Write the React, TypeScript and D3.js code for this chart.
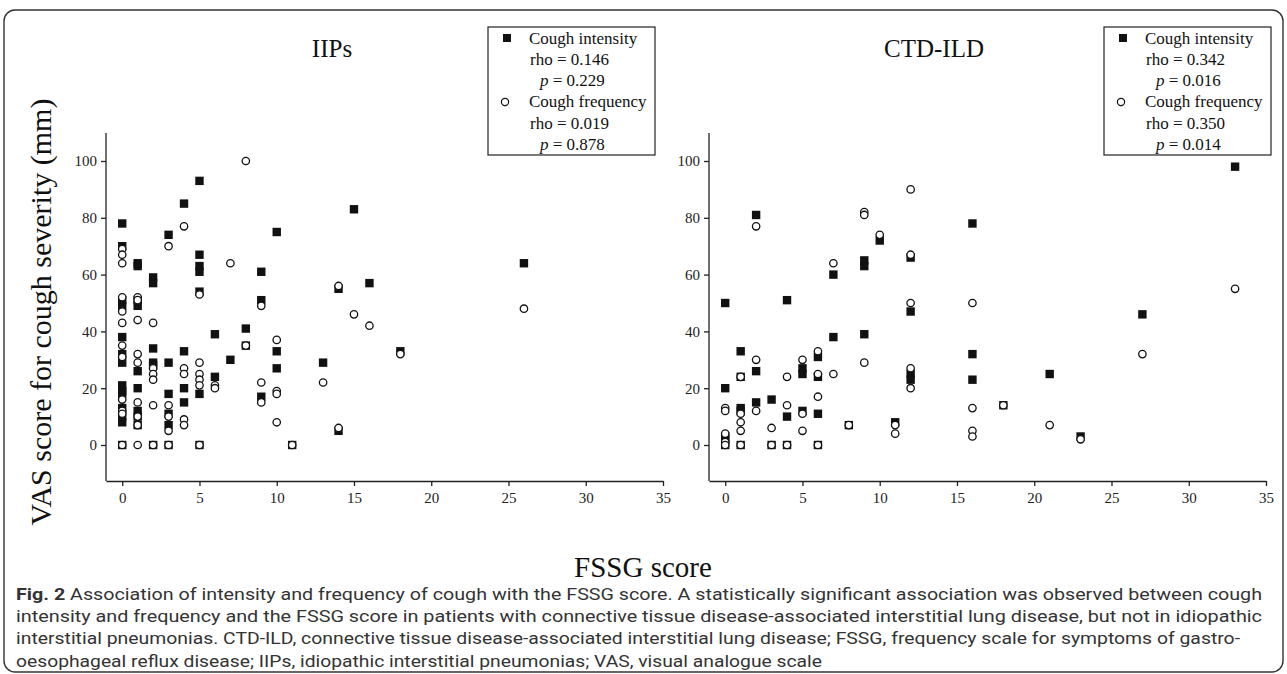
import React, { useEffect, useRef } from "react";
import * as d3 from "d3";

// FSSG score (x) vs VAS score (y)
const iipsIntensity: [number, number][] = [
  [0, 78], [0, 70], [0, 51], [0, 49], [0, 38], [0, 32], [0, 29], [0, 21], [0, 19], [0, 18], [0, 13], [0, 10], [0, 8], [0, 0],
  [1, 64], [1, 63], [1, 51], [1, 49], [1, 26], [1, 20], [1, 12], [1, 10], [1, 7],
  [2, 59], [2, 57], [2, 34], [2, 29], [2, 28], [2, 0],
  [3, 74], [3, 29], [3, 18], [3, 11], [3, 7], [3, 0],
  [4, 85], [4, 33], [4, 20], [4, 15],
  [5, 93], [5, 67], [5, 63], [5, 61], [5, 54], [5, 18], [5, 0],
  [6, 39], [6, 24], [7, 30], [8, 41], [8, 35],
  [9, 61], [9, 51], [9, 17], [10, 75], [10, 33], [10, 27],
  [11, 0], [13, 29], [14, 55], [14, 5], [15, 83], [16, 57], [18, 33], [26, 64],
];
const iipsFrequency: [number, number][] = [
  [0, 69], [0, 67], [0, 64], [0, 52], [0, 47], [0, 43], [0, 35], [0, 31], [0, 16], [0, 12], [0, 11], [0, 0],
  [1, 52], [1, 51], [1, 44], [1, 32], [1, 29], [1, 15], [1, 10], [1, 7], [1, 0],
  [2, 43], [2, 27], [2, 25], [2, 23], [2, 14], [2, 0],
  [3, 70], [3, 14], [3, 10], [3, 5], [3, 0],
  [4, 77], [4, 27], [4, 25], [4, 9], [4, 7],
  [5, 53], [5, 29], [5, 25], [5, 23], [5, 21], [5, 0],
  [6, 21], [6, 20], [7, 64], [8, 100], [8, 35],
  [9, 49], [9, 22], [9, 15], [10, 37], [10, 19], [10, 18], [10, 8],
  [11, 0], [13, 22], [14, 56], [14, 6], [15, 46], [16, 42], [18, 32], [26, 48],
];
const ctdIntensity: [number, number][] = [
  [0, 50], [0, 20], [0, 3], [0, 2], [0, 0],
  [1, 33], [1, 24], [1, 13], [1, 12], [1, 0],
  [2, 81], [2, 26], [2, 15], [3, 16], [3, 0],
  [4, 51], [4, 10], [4, 0], [5, 27], [5, 25], [5, 12],
  [6, 31], [6, 24], [6, 11], [6, 0], [7, 60], [7, 38], [8, 7],
  [9, 65], [9, 63], [9, 39], [10, 72], [11, 8],
  [12, 66], [12, 47], [12, 25], [12, 23],
  [16, 78], [16, 32], [16, 23], [18, 14], [21, 25], [23, 3], [27, 46], [33, 98],
];
const ctdFrequency: [number, number][] = [
  [0, 13], [0, 12], [0, 4], [0, 1], [0, 0],
  [1, 24], [1, 11], [1, 8], [1, 5], [1, 0],
  [2, 77], [2, 30], [2, 12], [3, 6], [3, 0],
  [4, 24], [4, 14], [4, 0], [5, 30], [5, 11], [5, 5],
  [6, 33], [6, 25], [6, 17], [6, 0], [7, 64], [7, 25], [8, 7],
  [9, 82], [9, 81], [9, 29], [10, 74], [11, 7], [11, 4],
  [12, 90], [12, 67], [12, 50], [12, 27], [12, 20],
  [16, 50], [16, 13], [16, 5], [16, 3], [18, 14], [21, 7], [23, 2], [27, 32], [33, 55],
];

const xTicks = [0, 5, 10, 15, 20, 25, 30, 35];
const yTicks = [0, 20, 40, 60, 80, 100];
const iipsStats = ["0.146", "0.229", "0.019", "0.878"]; // rho, p, rho, p
const ctdStats = ["0.342", "0.016", "0.350", "0.014"];

const captionLines = [
  "Association of intensity and frequency of cough with the FSSG score. A statistically significant association was observed between cough",
  "intensity and frequency and the FSSG score in patients with connective tissue disease-associated interstitial lung disease, but not in idiopathic",
  "interstitial pneumonias. CTD-ILD, connective tissue disease-associated interstitial lung disease; FSSG, frequency scale for symptoms of gastro-",
  "oesophageal reflux disease; IIPs, idiopathic interstitial pneumonias; VAS, visual analogue scale",
];
const captionEnds = [1262, 1262, 1240, 822];

const serif = "'Liberation Serif', 'Times New Roman', serif";
const sans = "Roboto, 'Noto Sans', sans-serif";

export default function App() {
  const ref = useRef<SVGSVGElement>(null);

  useEffect(() => {
    const svg = d3.select(ref.current);
    svg.selectAll("*").remove();

    // outer frame
    svg.append("rect")
      .attr("x", 4).attr("y", 10).attr("width", 1279).attr("height", 662)
      .attr("rx", 11).attr("fill", "none").attr("stroke", "#333").attr("stroke-width", 1.4);

    const panels = [
      { title: "IIPs", left: 106, titleX: 332, legendX: 488, intensity: iipsIntensity, frequency: iipsFrequency, stats: iipsStats },
      { title: "CTD-ILD", left: 709, titleX: 934, legendX: 1104, intensity: ctdIntensity, frequency: ctdFrequency, stats: ctdStats },
    ];

    const axisY = 481;
    const yScale = d3.scaleLinear().domain([0, 100]).range([445, 161]);
    const yTop = 133;

    panels.forEach((p) => {
      const xScale = d3.scaleLinear().domain([-1.05, 35]).range([p.left, p.left + 557]);
      const g = svg.append("g");

      const xAxis = g.append("g")
        .attr("transform", `translate(0,${axisY})`)
        .call(d3.axisBottom(xScale).tickValues(xTicks).tickSize(5).tickSizeOuter(0).tickPadding(6));
      const yAxis = g.append("g")
        .attr("transform", `translate(${p.left},0)`)
        .call(d3.axisLeft(yScale).tickValues(yTicks).tickSize(5).tickSizeOuter(0).tickPadding(4));
      yAxis.select(".domain").attr("d", `M0,${yTop}V${axisY}`);
      [xAxis, yAxis].forEach((a) => {
        a.selectAll("path, line").attr("stroke", "#222").attr("stroke-width", 1.3);
        a.selectAll("text").attr("font-family", serif).attr("font-size", 15).attr("fill", "#222");
      });

      // squares (intensity) then circles (frequency) on top
      g.selectAll("rect.int")
        .data(p.intensity)
        .join("rect")
        .attr("class", "int")
        .attr("x", (d) => xScale(d[0]) - 4.2)
        .attr("y", (d) => yScale(d[1]) - 4.2)
        .attr("width", 8.4).attr("height", 8.4)
        .attr("fill", "#111");
      g.selectAll("circle.freq")
        .data(p.frequency)
        .join("circle")
        .attr("class", "freq")
        .attr("cx", (d) => xScale(d[0]))
        .attr("cy", (d) => yScale(d[1]))
        .attr("r", 3.7)
        .attr("fill", "#fff").attr("stroke", "#111").attr("stroke-width", 1.3);

      g.append("text")
        .attr("x", p.titleX).attr("y", 57)
        .attr("text-anchor", "middle")
        .attr("font-family", serif).attr("font-size", 25).attr("fill", "#111")
        .text(p.title);

      // legend box
      const lx = p.legendX;
      g.append("rect")
        .attr("x", lx).attr("y", 27).attr("width", 167).attr("height", 128)
        .attr("fill", "#fff").attr("stroke", "#222").attr("stroke-width", 1.2);
      g.append("rect").attr("x", lx + 15).attr("y", 34).attr("width", 8).attr("height", 8).attr("fill", "#111");
      g.append("circle").attr("cx", lx + 17).attr("cy", 102).attr("r", 3.6)
        .attr("fill", "#fff").attr("stroke", "#111").attr("stroke-width", 1.2);
      const rows = [
        { x: 41, y: 44, label: "Cough intensity" },
        { x: 42, y: 65, rho: p.stats[0] },
        { x: 52, y: 86, p: p.stats[1] },
        { x: 41, y: 107, label: "Cough frequency" },
        { x: 42, y: 129, rho: p.stats[2] },
        { x: 52, y: 150, p: p.stats[3] },
      ];
      rows.forEach((r: any) => {
        const t = g.append("text")
          .attr("x", lx + r.x).attr("y", r.y)
          .attr("font-family", serif).attr("font-size", 17).attr("fill", "#111");
        if (r.label) t.text(r.label);
        else if (r.rho) t.text(`rho = ${r.rho}`);
        else {
          t.append("tspan").attr("font-style", "italic").text("p");
          t.append("tspan").text(` = ${r.p}`);
        }
      });
    });

    // axis titles
    svg.append("text")
      .attr("transform", "translate(51,312) rotate(-90)")
      .attr("text-anchor", "middle")
      .attr("font-family", serif).attr("font-size", 30).attr("fill", "#111")
      .text("VAS score for cough severity (mm)");
    svg.append("text")
      .attr("x", 643).attr("y", 577)
      .attr("text-anchor", "middle")
      .attr("font-family", serif).attr("font-size", 29).attr("fill", "#111")
      .text("FSSG score");

    // caption
    captionLines.forEach((line, i) => {
      const t = svg.append("text")
        .attr("x", 16).attr("y", 600 + i * 22.2)
        .attr("font-family", sans).attr("font-size", 16.5).attr("fill", "#333")
        .attr("textLength", captionEnds[i] - 16).attr("lengthAdjust", "spacingAndGlyphs");
      if (i === 0) {
        t.append("tspan").attr("font-weight", "bold").text("Fig. 2 ");
        t.append("tspan").text(line);
      } else {
        t.text(line);
      }
    });
  }, []);

  return (
    <svg
      ref={ref}
      width={1287}
      height={674}
      style={{ position: "absolute", left: 0, top: 0, background: "#fff" }}
    />
  );
}
